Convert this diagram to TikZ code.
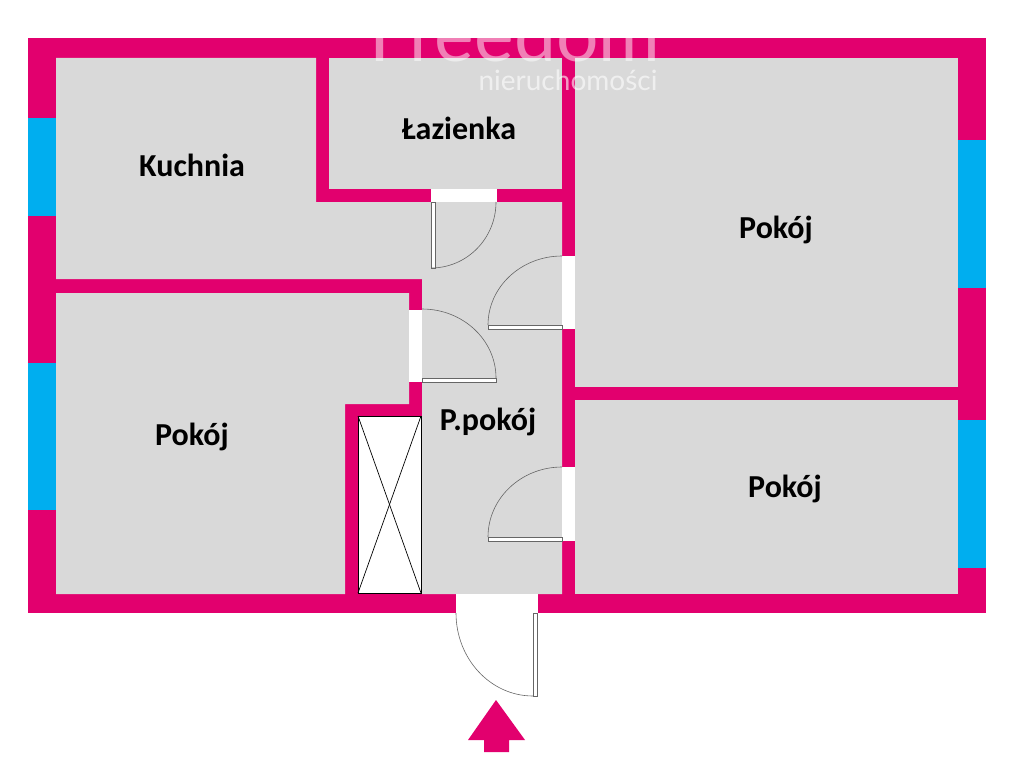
\documentclass[tikz,border=0pt]{standalone}
\usepackage{fontspec}
\setmainfont{Carlito}
\newfontfamily\markfont{Lato}
\definecolor{wallpink}{HTML}{E2006E}
\definecolor{roomgray}{HTML}{D9D9D9}
\definecolor{glassblue}{HTML}{00AEEF}
\tikzset{
	room/.style={fill = roomgray},
	gap/.style={fill = white},
	glass/.style={fill = glassblue},
	leaf/.style={draw = black!60, fill = white, line width=0.6pt},
	swing/.style={draw = black!60, line width=0.6pt},
	label/.style={font=\bfseries\fontsize{32}{32}\selectfont, text = black, inner sep=0pt}
}
\begin{document}
\begin{tikzpicture}[x=1pt,y=-1pt]
	\useasboundingbox (0,0) rectangle (1024,768);
	% walls
	\fill[wallpink] (28,38) rectangle (986,613);
	% rooms
	\fill[room] (56,58) -- (316,58) -- (316,202) -- (562,202) -- (562,594) -- (422,594) -- (422,279) -- (56,279) -- cycle;
	\fill[room] (329,58) rectangle (562,189);
	\fill[room] (575,58) rectangle (958,387);
	\fill[room] (575,400) rectangle (958,594);
	\fill[room] (56,293) -- (409,293) -- (409,404) -- (345,404) -- (345,594) -- (56,594) -- cycle;
	% windows
	\fill[glass] (28,118) rectangle (56,216);
	\fill[glass] (28,363) rectangle (56,510);
	\fill[glass] (958,140) rectangle (986,288);
	\fill[glass] (958,420) rectangle (986,568);
	% openings
	\fill[gap] (431,189) rectangle (497,202);
	\fill[gap] (562,256) rectangle (575,329);
	\fill[gap] (409,310) rectangle (422,382);
	\fill[gap] (562,467) rectangle (575,541);
	\fill[gap] (456,594) rectangle (538,613);
	% shaft
	\draw[black, line width=1pt, fill = white] (358,416) rectangle (421,593);
	\draw[black, line width=0.7pt] (358,416) -- (421,593);
	\draw[black, line width=0.7pt] (421,416) -- (358,593);
	% doors
	\draw[leaf] (431,202) rectangle (435,268);
	\draw[swing] (496,202) arc (0:90:65 and 66);
	\draw[leaf] (488,325) rectangle (562,329);
	\draw[swing] (562,256) arc (-90:-180:74 and 69);
	\draw[leaf] (422,378) rectangle (496,382);
	\draw[swing] (422,309) arc (-90:0:74 and 69);
	\draw[leaf] (488,537) rectangle (562,541);
	\draw[swing] (562,467) arc (-90:-180:74 and 70);
	\draw[leaf] (533,613) rectangle (537,696);
	\draw[swing] (456,613) arc (180:90:77 and 83);
	% entrance
	\fill[wallpink] (496,700) -- (525,740) -- (509,740) -- (509,752) -- (484,752) -- (484,740) -- (468,740) -- cycle;
	% labels
	\node (kuchnia) at (192,165) [label] {Kuchnia};
	\node (lazienka) at (459,128) [label] {Łazienka};
	\node (pokojA) at (776,230) [label] {Pokój};
	\node (pokojB) at (192,437) [label] {Pokój};
	\node (pokojC) at (785,489) [label] {Pokój};
	\node (hall) at (488,422) [label] {P.pokój};
	% watermark
	\node (markA) at (515,62) [anchor=base, inner sep=0pt, text = white, opacity=0.5, font=\markfont\fontsize{75}{75}\selectfont] {Freedom};
	\node (markB) at (568,90) [anchor=base, inner sep=0pt, text = white, opacity=0.6, font=\markfont\fontsize{28}{28}\selectfont] {nieruchomości};
\end{tikzpicture}
\end{document}
